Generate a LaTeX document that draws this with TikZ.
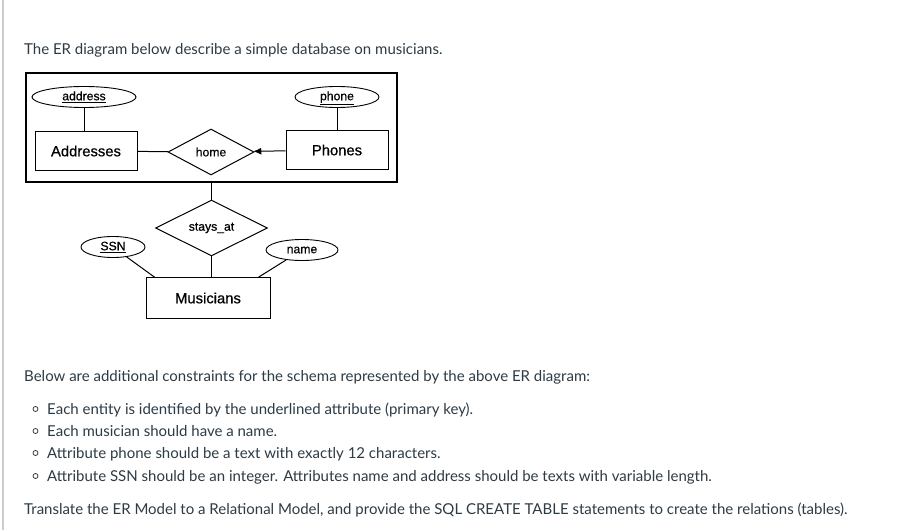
\documentclass[tikz,border=0pt]{standalone}
\usepackage{fontspec}
\setmainfont{Lato}
\newfontfamily\erfont[FakeBold=0.6]{Liberation Sans}
\usepackage{xcolor}
\usetikzlibrary{shapes.geometric, arrows.meta}
\definecolor{txtgray}{HTML}{2D3B45}
\definecolor{edgegray}{HTML}{C7CDD1}
\tikzset{
    ent/.style={draw, line width=1pt, minimum width=102pt, minimum height=39pt, inner sep=0pt, font=\erfont\fontsize{14.8}{16}\selectfont},
    rel/.style={draw, line width=1pt, diamond, inner sep=0pt, font=\erfont\fontsize{12.2}{14}\selectfont},
    attr/.style={draw, line width=0.9pt, ellipse, inner sep=0pt, minimum height=21pt, text height=8.5pt, text depth=2pt, font=\erfont\fontsize{12.2}{14}\selectfont},
    para/.style={anchor=base west, inner sep=0pt, text=txtgray, font=\fontsize{15}{17}\selectfont},
    bul/.style={circle, draw=txtgray, line width=0.8pt, inner sep=0pt, minimum size=5pt},
    er/.style={line width=1pt}
}
\begin{document}
\begin{tikzpicture}[x=1pt, y=-1pt]
        \useasboundingbox (0,0) rectangle (916,530);
        \fill[white] (0,0) rectangle (916,530);
        \draw[edgegray, line width=1.5pt] (3,0) -- (3,530);

        \node[para] (intro) at (24,54) {The ER diagram below describe a simple database on musicians.};

        % aggregation box
        \node[draw, line width=1.4pt, minimum width=371pt, minimum height=109pt, inner sep=0pt] (agg) at (211.5,127.5) {};
        \node[attr, minimum width=104pt] (address) at (84,97) {\underline{address}};
        \node[attr, minimum width=84pt] (phone) at (337,97) {\underline{phone}};
        \node[ent] (addr) at (86,151) {Addresses};
        \node[ent] (phones) at (337,150) {Phones};
        \node[rel, minimum width=86pt, minimum height=46pt] (home) at (211,152) {home};

        \draw[er] (address) -- (address |- addr.north);
        \draw[er] (phone) -- (phones);
        \draw[er] (addr) -- (home);
        \draw[er, -{Latex[length=8pt, width=7pt]}] (phones) -- (home);

        % musicians part
        \node[rel, minimum width=112pt, minimum height=46pt] (stays) at (211.5,228) {stays\_at};
        \node[attr, minimum width=64pt] (ssn) at (113,247) {\underline{SSN}};
        \node[attr, minimum width=72pt] (name) at (302,250) {name};
        \node[ent, minimum width=124pt, minimum height=41pt] (mus) at (208,298) {Musicians};

        \draw[er] (agg) -- (stays);
        \draw[er] (stays) -- (stays |- mus.north);
        \draw[er] (ssn) -- (155,277.5);
        \draw[er] (name) -- (258,277.5);

        % constraints
        \node[para] (below) at (24,381) {Below are additional constraints for the schema represented by the above ER diagram:};
        \foreach \y/\t in {414/{Each entity is identified by the underlined attribute (primary key).},
                           436/{Each musician should have a name.},
                           458/{Attribute phone should be a text with exactly 12 characters.},
                           481/{Attribute SSN should be an integer. Attributes name and address should be texts with variable length.}} {
            \node[bul] at (35.5,\y-5) {};
            \node[para] at (47,\y) {\t};
        }
        \node[para] (task) at (24,514) {Translate the ER Model to a Relational Model, and provide the SQL CREATE TABLE statements to create the relations (tables).};
    \end{tikzpicture}
\end{document}
